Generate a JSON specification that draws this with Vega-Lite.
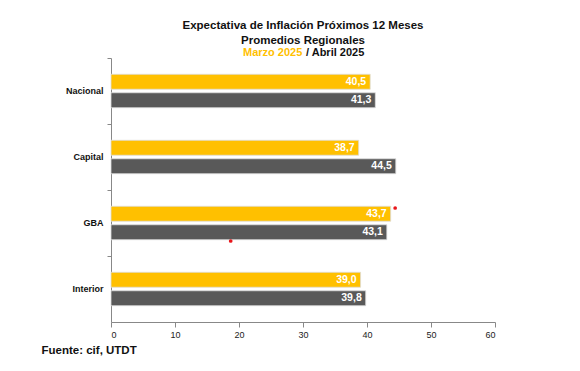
{
  "$schema": "https://vega.github.io/schema/vega-lite/v6.json",
  "width": 384,
  "height": 264,
  "autosize": {"type": "none"},
  "padding": {"left": 111, "top": 58, "right": 85, "bottom": 49},
  "background": "white",
  "config": {
    "view": {"stroke": null},
    "font": "Liberation Sans",
    "locale": {"number": {"decimal": ",", "thousands": ".", "grouping": [3], "currency": ["$", ""]}}
  },
  "title": {
    "text": ["Expectativa de Inflación Próximos 12 Meses", "Promedios Regionales"],
    "font": "Liberation Sans",
    "fontSize": 11.5,
    "fontWeight": "bold",
    "color": "#111111",
    "anchor": "middle",
    "lineHeight": 15,
    "offset": 1
  },
  "datasets": {
    "bars": [
      {"region": "Nacional", "periodo": "Marzo 2025", "valor": 40.5},
      {"region": "Nacional", "periodo": "Abril 2025", "valor": 41.3},
      {"region": "Capital", "periodo": "Marzo 2025", "valor": 38.7},
      {"region": "Capital", "periodo": "Abril 2025", "valor": 44.5},
      {"region": "GBA", "periodo": "Marzo 2025", "valor": 43.7},
      {"region": "GBA", "periodo": "Abril 2025", "valor": 43.1},
      {"region": "Interior", "periodo": "Marzo 2025", "valor": 39.0},
      {"region": "Interior", "periodo": "Abril 2025", "valor": 39.8}
    ],
    "dots": [
      {"region": "GBA", "punto": "a", "x": 44.4},
      {"region": "GBA", "punto": "b", "x": 18.7}
    ]
  },
  "encoding": {
    "y": {
      "field": "region",
      "type": "nominal",
      "sort": ["Nacional", "Capital", "GBA", "Interior"],
      "scale": {"paddingInner": 0, "paddingOuter": 0},
      "axis": {
        "title": null,
        "domainColor": "#888888",
        "tickColor": "#888888",
        "tickSize": 4,
        "bandPosition": 0,
        "labelFont": "Liberation Sans",
        "labelFontSize": 9,
        "labelFontWeight": "bold",
        "labelColor": "#111111",
        "labelPadding": 4
      }
    }
  },
  "layer": [
    {
      "data": {"name": "bars"},
      "mark": {"type": "bar", "stroke": "#dddddd", "strokeWidth": 0.8},
      "encoding": {
        "yOffset": {
          "field": "periodo",
          "type": "nominal",
          "sort": ["Marzo 2025", "Abril 2025"],
          "scale": {"paddingInner": 0.19, "paddingOuter": 0.88}
        },
        "x": {
          "field": "valor",
          "type": "quantitative",
          "scale": {"domain": [0, 60], "nice": false},
          "axis": {
            "values": [0, 10, 20, 30, 40, 50, 60],
            "grid": false,
            "domainColor": "#888888",
            "tickColor": "#888888",
            "tickSize": 5,
            "labelFont": "Liberation Sans",
            "labelFontSize": 9,
            "labelColor": "#222222",
            "labelPadding": 3,
            "title": "Fuente: cif, UTDT",
            "titleFont": "Liberation Sans",
            "titleFontSize": 11.5,
            "titleFontWeight": "bold",
            "titleColor": "#111111",
            "titleAnchor": "start",
            "titleAlign": "left",
            "titleBaseline": "alphabetic",
            "titleX": -70,
            "titleY": 31
          }
        },
        "color": {
          "field": "periodo",
          "type": "nominal",
          "sort": ["Marzo 2025", "Abril 2025"],
          "scale": {"domain": ["Marzo 2025", "Abril 2025"], "range": ["#FFC000", "#595959"]},
          "legend": {
            "title": null,
            "orient": "none",
            "direction": "horizontal",
            "legendX": 132,
            "legendY": -11,
            "symbolSize": 0.01,
            "symbolOpacity": 0,
            "symbolStrokeWidth": 0,
            "labelOffset": -11,
            "columnPadding": 3,
            "labelFont": "Liberation Sans",
            "labelFontSize": 11,
            "labelFontWeight": "bold",
            "labelExpr": "datum.value == 'Abril 2025' ? '/ Abril 2025' : datum.label",
            "labelColor": {"expr": "datum.value == 'Marzo 2025' ? '#FFC000' : '#111111'"}
          }
        }
      }
    },
    {
      "data": {"name": "bars"},
      "mark": {"type": "text", "align": "right", "baseline": "middle", "dx": -4, "color": "white", "fontSize": 10.5, "fontWeight": "bold", "font": "Liberation Sans"},
      "encoding": {
        "yOffset": {
          "field": "periodo",
          "type": "nominal",
          "sort": ["Marzo 2025", "Abril 2025"],
          "scale": {"paddingInner": 0.19, "paddingOuter": 0.88}
        },
        "x": {"field": "valor", "type": "quantitative"},
        "text": {"field": "valor", "type": "quantitative", "format": ".1f"}
      }
    },
    {
      "data": {"name": "dots"},
      "transform": [{"filter": "datum.punto == 'a'"}],
      "mark": {"type": "point", "filled": true, "color": "#e8161b", "size": 14, "opacity": 1, "yOffset": -15},
      "encoding": {
        "x": {"field": "x", "type": "quantitative"}
      }
    },
    {
      "data": {"name": "dots"},
      "transform": [{"filter": "datum.punto == 'b'"}],
      "mark": {"type": "point", "filled": true, "color": "#e8161b", "size": 14, "opacity": 1, "yOffset": 18},
      "encoding": {
        "x": {"field": "x", "type": "quantitative"}
      }
    }
  ]
}
